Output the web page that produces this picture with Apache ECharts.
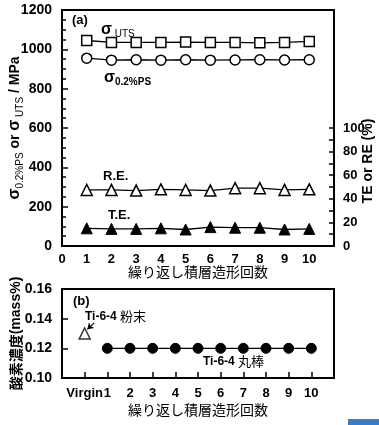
<!DOCTYPE html>
<html>
<head>
<meta charset="utf-8">
<script src="https://cdn.jsdelivr.net/npm/echarts@6/dist/echarts.min.js"></script>
<style>
html, body { margin: 0; padding: 0; background: #fff; }
#chart { width: 379px; height: 425px; }
</style>
</head>
<body>
<div id="chart"></div>
<script>
var chart = echarts.init(document.getElementById("chart"));

// data
var cycles = [1, 2, 3, 4, 5, 6, 7, 8, 9, 10];
var utsValues = [1045, 1035, 1035, 1035, 1037, 1035, 1035, 1033, 1035, 1040];
var psValues = [955, 945, 947, 945, 947, 945, 946, 947, 946, 947];
var reValues = [47.5, 47.5, 47, 48, 47.5, 47, 49, 49, 47.5, 48];
var teValues = [15, 14.5, 14.5, 15, 14, 16, 15.5, 15.5, 14, 14.5];
var virginOxygen = 0.13;
var barOxygen = [0.12, 0.12, 0.12, 0.12, 0.12, 0.12, 0.12, 0.12, 0.12, 0.12];

var topXLabels = [0, 1, 2, 3, 4, 5, 6, 7, 8, 9, 10];
var leftTicks = [0, 200, 400, 600, 800, 1000, 1200];
var rightLabels = [0, 20, 40, 60, 80, 100];
var rightTicks = [0, 10, 20, 30, 40, 50, 60, 70, 80, 90, 100];
var bottomXTicks = [0, 1, 2, 3, 4, 5, 6, 7, 8, 9, 10];

function pairs(xs, ys) {
  return xs.map(function (x, i) { return [x, ys[i]]; });
}

var numFont = "'Liberation Sans', Arial, sans-serif";
var jpFont = "'Noto Sans CJK JP', sans-serif";
var black = "#000";

var lineStyle = { color: black, width: 1.3 };
var axisLine = { show: true, onZero: false, lineStyle: { color: black, width: 2 } };

chart.setOption({
  animation: false,
  backgroundColor: "#fff",
  grid: [
    { left: 62, top: 10, right: 45, height: 236, show: true, borderColor: black, borderWidth: 2, backgroundColor: "transparent", containLabel: false, outerBoundsMode: "none" },
    { left: 62, top: 289, right: 45, height: 89, show: true, borderColor: black, borderWidth: 2, backgroundColor: "transparent", containLabel: false, outerBoundsMode: "none" }
  ],
  xAxis: [
    {
      gridIndex: 0, type: "value", min: 0, max: 11, interval: 1,
      axisLine: axisLine,
      axisTick: { show: false },
      splitLine: { show: false },
      axisLabel: { customValues: topXLabels, color: black, fontWeight: "bold", fontSize: 13, fontFamily: numFont, margin: 7 },
      name: "繰り返し積層造形回数", nameLocation: "middle", nameGap: 19, nameMoveOverlap: false,
      nameTextStyle: { color: black, fontSize: 14, fontFamily: jpFont }
    },
    {
      gridIndex: 1, type: "value", min: -1, max: 11, interval: 1,
      axisLine: axisLine,
      axisTick: { show: true, inside: true, length: 6, customValues: bottomXTicks, lineStyle: { color: black, width: 1.5 } },
      splitLine: { show: false },
      axisLabel: {
        customValues: bottomXTicks, color: black, fontWeight: "bold", fontSize: 13, fontFamily: numFont, margin: 9,
        formatter: function (v) { return v === 0 ? "Virgin" : String(v); }
      },
      name: "繰り返し積層造形回数", nameLocation: "middle", nameGap: 25, nameMoveOverlap: false,
      nameTextStyle: { color: black, fontSize: 14, fontFamily: jpFont }
    }
  ],
  yAxis: [
    {
      gridIndex: 0, type: "value", min: 0, max: 1200, interval: 200,
      axisLine: axisLine,
      axisTick: { show: true, inside: true, length: 6, lineStyle: { color: black, width: 1.5 } },
      minorTick: { show: true, splitNumber: 4, length: 4, lineStyle: { color: black, width: 1.5 } },
      splitLine: { show: false },
      axisLabel: {
        customValues: leftTicks, color: black, fontWeight: "bold", fontSize: 14, fontFamily: numFont, margin: 10,
        formatter: function (v) { return String(v); }
      },
      name: "{s|σ}{sub|0.2%PS}{n| or }{s|σ}{sub| UTS}{n| / MPa}",
      nameLocation: "middle", nameGap: 37, nameMoveOverlap: false,
      nameTextStyle: {
        color: black, fontFamily: numFont,
        rich: {
          s: { fontSize: 16, fontWeight: "bold", color: black, fontFamily: numFont, lineHeight: 20 },
          sub: { fontSize: 10, color: black, fontFamily: numFont, verticalAlign: "bottom", lineHeight: 14 },
          n: { fontSize: 14, fontWeight: "bold", color: black, fontFamily: numFont, lineHeight: 20 }
        }
      }
    },
    {
      gridIndex: 0, type: "value", min: 0, max: 200, interval: 20, position: "right",
      axisLine: axisLine,
      axisTick: { show: true, inside: true, length: 5, customValues: rightTicks, lineStyle: { color: black, width: 1.5 } },
      splitLine: { show: false },
      axisLabel: { customValues: rightLabels, color: black, fontWeight: "bold", fontSize: 13, fontFamily: numFont, margin: 9 }
    },
    {
      gridIndex: 1, type: "value", min: 0.10, max: 0.16, interval: 0.02,
      axisLine: axisLine,
      axisTick: { show: true, inside: true, length: 6, lineStyle: { color: black, width: 1.5 } },
      splitLine: { show: false },
      axisLabel: {
        color: black, fontWeight: "bold", fontSize: 14, fontFamily: numFont, margin: 10,
        formatter: function (v) { return v.toFixed(2); }
      },
      name: "{j|酸素濃度}{n|(mass%)}",
      nameLocation: "middle", nameGap: 39, nameMoveOverlap: false,
      nameTextStyle: {
        rich: {
          j: { fontSize: 14, fontWeight: "bold", color: black, fontFamily: jpFont },
          n: { fontSize: 14, fontWeight: "bold", color: black, fontFamily: numFont }
        }
      }
    }
  ],
  series: [
    {
      name: "UTS", type: "line", xAxisIndex: 0, yAxisIndex: 0,
      data: pairs(cycles, utsValues),
      symbol: "rect", symbolSize: 10,
      itemStyle: { color: "#fff", borderColor: black, borderWidth: 1.5 },
      lineStyle: lineStyle
    },
    {
      name: "PS", type: "line", xAxisIndex: 0, yAxisIndex: 0,
      data: pairs(cycles, psValues),
      symbol: "circle", symbolSize: 10,
      itemStyle: { color: "#fff", borderColor: black, borderWidth: 1.5 },
      lineStyle: lineStyle
    },
    {
      name: "RE", type: "line", xAxisIndex: 0, yAxisIndex: 1,
      data: pairs(cycles, reValues),
      symbol: "triangle", symbolSize: 11,
      itemStyle: { color: "#fff", borderColor: black, borderWidth: 1.5 },
      lineStyle: lineStyle
    },
    {
      name: "TE", type: "line", xAxisIndex: 0, yAxisIndex: 1,
      data: pairs(cycles, teValues),
      symbol: "triangle", symbolSize: 11,
      itemStyle: { color: black, borderColor: black, borderWidth: 1 },
      lineStyle: lineStyle
    },
    {
      name: "powder", type: "scatter", xAxisIndex: 1, yAxisIndex: 2,
      data: [[0, virginOxygen]],
      symbol: "triangle", symbolSize: 11,
      itemStyle: { color: "#fff", borderColor: black, borderWidth: 1.5 },
      markLine: {
        silent: true, symbol: ["none", "arrow"], symbolSize: 6,
        label: { show: false },
        lineStyle: { color: black, width: 1.2, type: "solid" },
        data: [[{ coord: [0.42, 0.1372] }, { coord: [0.12, 0.1328] }]]
      }
    },
    {
      name: "bar", type: "line", xAxisIndex: 1, yAxisIndex: 2,
      data: pairs(cycles, barOxygen),
      symbol: "circle", symbolSize: 10,
      itemStyle: { color: black, borderColor: black, borderWidth: 1 },
      lineStyle: lineStyle
    }
  ],
  graphic: [
    { type: "text", left: 72, top: 14, style: { text: "(a)", fill: black, font: "bold 13px " + numFont } },
    {
      type: "text", left: 101, top: 22,
      style: {
        text: "{s|σ}{u| UTS}",
        rich: {
          s: { fontSize: 16, fontWeight: "bold", fill: black, fontFamily: numFont, lineHeight: 18 },
          u: { fontSize: 10, fill: black, fontFamily: numFont, verticalAlign: "bottom", lineHeight: 12 }
        }
      }
    },
    {
      type: "text", left: 104, top: 70,
      style: {
        text: "{s|σ}{u|0.2%PS}",
        rich: {
          s: { fontSize: 16, fontWeight: "bold", fill: black, fontFamily: numFont, lineHeight: 18 },
          u: { fontSize: 10, fontWeight: "bold", fill: black, fontFamily: numFont, verticalAlign: "bottom", lineHeight: 12 }
        }
      }
    },
    { type: "text", left: 103, top: 170, style: { text: "R.E.", fill: black, font: "bold 13px " + numFont } },
    { type: "text", left: 108, top: 209, style: { text: "T.E.", fill: black, font: "bold 13px " + numFont } },
    {
      type: "text", x: 368, y: 161, rotation: Math.PI / 2,
      style: { text: "TE or RE (%)", fill: black, font: "bold 14px " + numFont, align: "center", verticalAlign: "middle" }
    },
    { type: "text", left: 73, top: 295, style: { text: "(b)", fill: black, font: "bold 13px " + numFont } },
    {
      type: "text", left: 85, top: 310,
      style: {
        text: "{a|Ti-6-4 }{j|粉末}",
        rich: {
          a: { fontSize: 12, fontWeight: "bold", fill: black, fontFamily: numFont },
          j: { fontSize: 13, fill: black, fontFamily: jpFont }
        }
      }
    },
    {
      type: "text", left: 203, top: 355,
      style: {
        text: "{a|Ti-6-4 }{j|丸棒}",
        rich: {
          a: { fontSize: 12, fontWeight: "bold", fill: black, fontFamily: numFont },
          j: { fontSize: 13, fill: black, fontFamily: jpFont }
        }
      }
    },
    { type: "rect", left: 348, top: 419, shape: { width: 31, height: 6 }, style: { fill: "#3a7cc6" } }
  ]
});
</script>
</body>
</html>
